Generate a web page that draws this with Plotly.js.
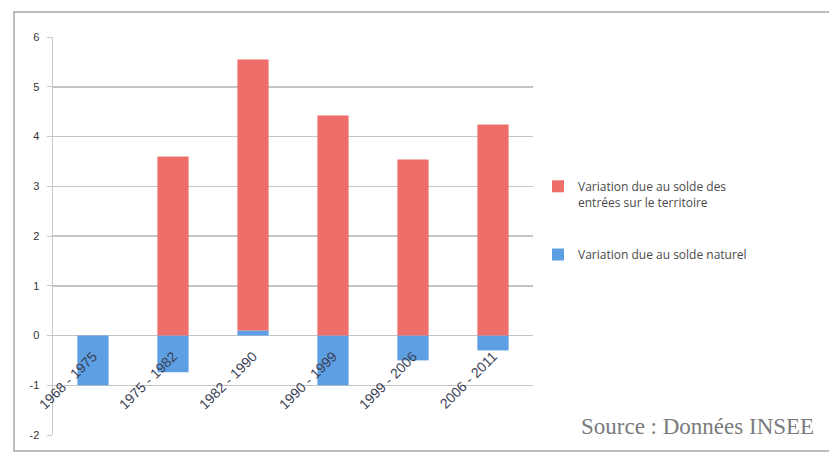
<!DOCTYPE html>
<html>
<head>
<meta charset="utf-8">
<script src="https://cdn.plot.ly/plotly-3.0.1.min.js"></script>
<style>
  html, body { margin: 0; padding: 0; background: #ffffff; }
  #chart { width: 829px; height: 454px; }
</style>
</head>
<body>
<div id="chart"></div>
<script>
// Periods (categories)
const periods = ["1968 - 1975", "1975 - 1982", "1982 - 1990", "1990 - 1999", "1999 - 2006", "2006 - 2011"];
// Variation due au solde naturel (blue, bottom series)
const soldeNaturel = [-1.0, -0.74, 0.1, -1.0, -0.5, -0.3];
// Variation due au solde des entrées sur le territoire (red, stacked on top)
const soldeEntrees = [0, 3.6, 5.45, 4.42, 3.54, 4.24];
// Axis ticks
const yTicks = [-2, -1, 0, 1, 2, 3, 4, 5, 6];
const yTickLabels = ["-2", "-1", "0", "1", "2", "3", "4", "5", "6"];

const nameNaturel = "Variation due au solde naturel";
const nameEntrees = "Variation due au solde des<br>entrées sur le territoire";

const traces = [
  {
    type: "bar",
    x: periods,
    y: soldeNaturel,
    name: nameNaturel,
    legendgroup: "b",
    legendrank: 2,
    marker: { color: "#5d9fe2", line: { width: 0 } },
    hoverinfo: "skip"
  },
  {
    type: "bar",
    x: periods,
    y: soldeEntrees,
    name: nameEntrees,
    legendgroup: "a",
    legendrank: 1,
    marker: { color: "#ee6f6a", line: { width: 0 } },
    hoverinfo: "skip"
  }
];

const W = 829, H = 454;
const mL = 53, mR = W - 533, mT = 37, mB = H - 435;
const pw = W - mL - mR, ph = H - mT - mB;
function px(x) { return (x - mL) / pw; }
function py(y) { return (H - mB - y) / ph; }

const layout = {
  width: W,
  height: H,
  margin: { l: mL, r: mR, t: mT, b: mB, pad: 0 },
  paper_bgcolor: "#ffffff",
  plot_bgcolor: "#ffffff",
  barmode: "relative",
  bargap: 0.61,
  showlegend: true,
  font: { family: "Open Sans, Liberation Sans, sans-serif", color: "#444" },
  xaxis: {
    type: "category",
    range: [-0.5, 5.5],
    anchor: "free",
    position: 0.25,
    showgrid: false,
    zeroline: false,
    showline: false,
    ticks: "",
    tickangle: -45,
    tickfont: { family: "Liberation Sans, Arial, sans-serif", size: 14, color: "#3a3f55" },
    ticklabelstandoff: 9,
    fixedrange: true
  },
  yaxis: {
    range: [-2, 6],
    tickvals: yTicks,
    ticktext: yTickLabels,
    showgrid: true,
    gridcolor: "#c4c4c4",
    gridwidth: 1.5,
    zeroline: true,
    zerolinecolor: "#c4c4c4",
    zerolinewidth: 1.5,
    showline: true,
    linecolor: "#c8c8c8",
    linewidth: 1.5,
    ticks: "outside",
    ticklen: 5,
    tickcolor: "#c8c8c8",
    tickfont: { family: "Liberation Sans, Arial, sans-serif", size: 11, color: "#333" },
    ticklabelstandoff: 5,
    fixedrange: true
  },
  legend: {
    x: px(538),
    xanchor: "left",
    y: py(172),
    yanchor: "top",
    traceorder: "grouped",
    tracegroupgap: 34,
    valign: "top",
    bgcolor: "rgba(0,0,0,0)",
    font: { family: "Open Sans, sans-serif", size: 12, color: "#4a4a4a" },
    itemwidth: 30
  },
  shapes: [
    {
      type: "rect",
      xref: "paper", yref: "paper",
      x0: px(14), x1: px(870),
      y0: py(451), y1: py(12),
      line: { color: "#a8a8a8", width: 1.5 },
      fillcolor: "rgba(0,0,0,0)",
      layer: "below"
    }
  ],
  annotations: [
    {
      xref: "paper", yref: "paper",
      x: px(579), y: py(441),
      xanchor: "left", yanchor: "bottom",
      text: "Source : Données INSEE",
      showarrow: false,
      font: { family: "Liberation Serif, DejaVu Serif, serif", size: 23, color: "#7b7b7b" }
    }
  ]
};

Plotly.newPlot("chart", traces, layout, { displayModeBar: false, staticPlot: true });
</script>
</body>
</html>
